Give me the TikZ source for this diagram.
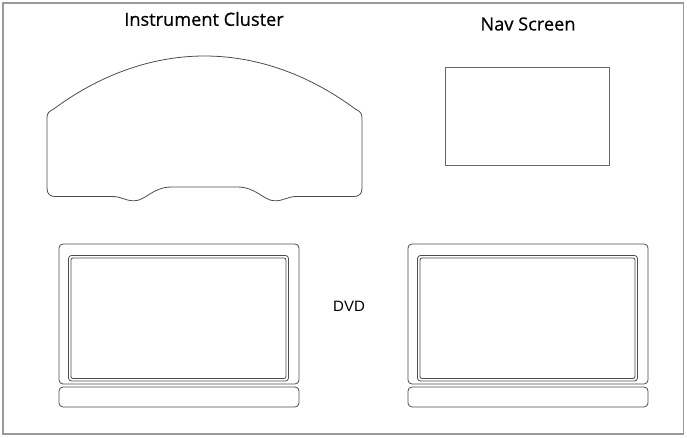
\documentclass[tikz,border=0pt]{standalone}
\usepackage{fontspec}
\setmainfont{Open Sans}
\newfontfamily\titlefont[FakeBold=0.6]{Open Sans}
\newfontfamily\dvdfont{Liberation Sans}
\usepackage{tikz}

\tikzset{
  frame/.style={draw=black!40, line width=1.5pt},
  outline/.style={draw=black!70, line width=0.8pt, line join=round},
  title/.style={font=\titlefont\fontsize{18.2}{22}\selectfont, inner sep=0pt}
}

\begin{document}
\begin{tikzpicture}[x=1pt,y=-1pt]
      \useasboundingbox (0,0) rectangle (687,438);
      \draw[frame] (3,3) rectangle (683.5,434);

      % labels
      \node[title] (cluster) at (204,19) {Instrument Cluster};
      \node[title] (nav) at (528,24) {Nav Screen};
      \node[font=\dvdfont\fontsize{15}{18}\selectfont, inner sep=0pt] (dvd) at (349,306) {DVD};

      % instrument cluster
      \draw[outline] (47,118) -- (47,188)
        .. controls (47,194) and (50,196.5) .. (55,196.5) -- (112,196.5)
        .. controls (122,196.5) and (125,200.8) .. (134,200.8)
        .. controls (146,200.8) and (152,187) .. (172,187) -- (237,187)
        .. controls (257,187) and (263,200.8) .. (275,200.8)
        .. controls (284,200.8) and (287,196.5) .. (297,196.5) -- (354,196.5)
        .. controls (359,196.5) and (362,194) .. (362,188) -- (362,118)
        .. controls (362,113) and (360,111.5) .. (356,109.5)
        .. controls (311,76) and (259,56) .. (204.5,56)
        .. controls (150,56) and (98,76) .. (53,109.5)
        .. controls (49,111.5) and (47,113) .. cycle;

      % nav screen
      \draw[outline, draw=black!60, line width=1pt] (445,68) rectangle (609,166);

      % dvd monitors
      \foreach \dx in {0,349} {
        \draw[outline, rounded corners=4pt] (59+\dx,244) rectangle (299+\dx,384);
        \draw[outline, rounded corners=4pt] (59+\dx,387) rectangle (299+\dx,407);
        \draw[outline, rounded corners=3pt] (68.5+\dx,255.5) rectangle (288.5+\dx,381);
        \draw[outline, rounded corners=2pt] (71+\dx,258) rectangle (286+\dx,378.5);
      }
\end{tikzpicture}
\end{document}
